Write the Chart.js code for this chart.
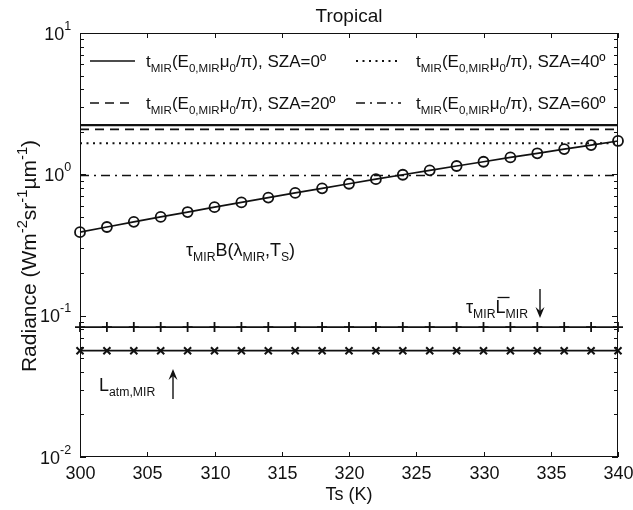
<!DOCTYPE html>
<html>
<head>
<meta charset="utf-8">
<script src="https://cdn.jsdelivr.net/npm/chart.js@4.4.1/dist/chart.umd.min.js"></script>
<style>
  html, body { margin: 0; padding: 0; background: #fff; }
</style>
</head>
<body>
<canvas id="chart" width="633" height="510"></canvas>
<script>
const temps = [300, 302, 304, 306, 308, 310, 312, 314, 316, 318, 320, 322, 324, 326, 328, 330, 332, 334, 336, 338, 340];
const tauPlanck = [0.39, 0.424, 0.461, 0.50, 0.541, 0.586, 0.633, 0.685, 0.739, 0.796, 0.858, 0.924, 0.993, 1.067, 1.145, 1.228, 1.317, 1.409, 1.508, 1.611, 1.722];
const solarSza = ["0", "20", "40", "60"];
const solarRadiance = [2.22, 2.08, 1.66, 0.98];
const downwelling = 0.083;
const atmPath = 0.0565;
const xTicks = [300, 305, 310, 315, 320, 325, 330, 335, 340];
const yTicks = [0.01, 0.1, 1, 10];
const yTickExp = ["-2", "-1", "0", "1"];

const ink = "#111";
const fontFamily = '"Liberation Sans", Arial, Helvetica, sans-serif';
const solarDash = [[], [9, 6], [2, 4.5], [9, 5, 2, 5]];

const datasets = solarRadiance.map((v, i) => ({
  data: temps.map(t => ({ x: t, y: v })),
  borderColor: ink,
  borderWidth: i === 2 ? 2 : 1.6,
  borderDash: solarDash[i],
  pointRadius: 0
}));

datasets.push({
  data: temps.map((t, i) => ({ x: t, y: tauPlanck[i] })),
  borderColor: ink,
  borderWidth: 1.7,
  pointStyle: "circle",
  pointRadius: 5,
  pointBorderWidth: 1.8,
  pointBorderColor: ink,
  pointBackgroundColor: "rgba(0,0,0,0)",
  clip: 10
});

datasets.push({
  data: temps.map(t => ({ x: t, y: downwelling })),
  borderColor: ink,
  borderWidth: 1.7,
  pointStyle: "cross",
  pointRadius: 5,
  pointBorderWidth: 1.8,
  pointBorderColor: ink,
  clip: 10
});

datasets.push({
  data: temps.map(t => ({ x: t, y: atmPath })),
  borderColor: ink,
  borderWidth: 1.7,
  pointStyle: "crossRot",
  pointRadius: 5,
  pointBorderWidth: 2,
  pointBorderColor: ink,
  clip: 10
});

// text with sub (1) / superscript (2) parts
function richText(ctx, x, y, parts, base, ratio = 0.68) {
  let cx = x;
  for (const [t, m] of parts) {
    const size = m ? base * ratio : base;
    ctx.font = size + "px " + fontFamily;
    const dy = m === 1 ? base * 0.28 : m === 2 ? -base * 0.42 : 0;
    ctx.fillText(t, cx, y + dy);
    cx += ctx.measureText(t).width;
  }
  return cx;
}

function richWidth(ctx, parts, base, ratio = 0.68) {
  let w = 0;
  for (const [t, m] of parts) {
    ctx.font = (m ? base * ratio : base) + "px " + fontFamily;
    w += ctx.measureText(t).width;
  }
  return w;
}

function arrow(ctx, x, y0, y1) {
  const dir = y1 > y0 ? 1 : -1;
  ctx.lineWidth = 1.4;
  ctx.beginPath();
  ctx.moveTo(x, y0);
  ctx.lineTo(x, y1 - dir * 4);
  ctx.stroke();
  ctx.beginPath();
  ctx.moveTo(x - 4.5, y1 - dir * 11);
  ctx.lineTo(x, y1);
  ctx.lineTo(x + 4.5, y1 - dir * 11);
  ctx.lineTo(x, y1 - dir * 7);
  ctx.closePath();
  ctx.fill();
}

const decorations = {
  id: "decorations",
  afterDraw(chart) {
    const ctx = chart.ctx;
    const area = chart.chartArea;
    const xs = chart.scales.x;
    const ys = chart.scales.y;
    ctx.save();
    ctx.fillStyle = ink;
    ctx.strokeStyle = ink;
    ctx.textBaseline = "alphabetic";

    // legend box
    const legBottom = 124;
    ctx.lineWidth = 1;
    ctx.setLineDash([]);
    ctx.strokeRect(area.left + 0.5, area.top + 0.5, area.right - area.left - 1, legBottom - area.top);

    const rows = [61, 103];
    const cols = [[90, 135, 146], [356, 401, 416]];
    const order = [[0, 0], [1, 0], [0, 1], [1, 1]]; // [row, col] for each SZA
    solarSza.forEach((sza, i) => {
      const [r, c] = order[i];
      const y = rows[r];
      ctx.setLineDash(solarDash[i]);
      ctx.lineWidth = i === 2 ? 2 : 1.4;
      ctx.beginPath();
      ctx.moveTo(cols[c][0], y);
      ctx.lineTo(cols[c][1], y);
      ctx.stroke();
      ctx.setLineDash([]);
      richText(ctx, cols[c][2], y + 6, [["t", 0], ["MIR", 1], ["(E", 0], ["0,MIR", 1], ["\u03bc", 0], ["0", 1], ["/\u03c0), SZA=" + sza + "\u00ba", 0]], 17);
    });

    // frame
    ctx.lineWidth = 1;
    ctx.strokeRect(area.left + 0.5, area.top + 0.5, area.right - area.left - 1, area.bottom - area.top - 1);

    // x ticks
    ctx.font = "18px " + fontFamily;
    ctx.textAlign = "center";
    xTicks.forEach(v => {
      const px = Math.round(xs.getPixelForValue(v)) + 0.5;
      ctx.beginPath();
      ctx.moveTo(px, area.bottom);
      ctx.lineTo(px, area.bottom - 5);
      ctx.moveTo(px, area.top);
      ctx.lineTo(px, area.top + 5);
      ctx.stroke();
      ctx.fillText(String(v), px, 479);
    });
    ctx.fillText("Ts (K)", (area.left + area.right) / 2, 500);
    ctx.font = "19px " + fontFamily;
    ctx.fillText("Tropical", (area.left + area.right) / 2, 22);

    // y ticks
    for (let d = 0; d < yTicks.length; d++) {
      const py = Math.round(ys.getPixelForValue(yTicks[d])) + 0.5;
      ctx.beginPath();
      ctx.moveTo(area.left, py);
      ctx.lineTo(area.left + 6, py);
      ctx.moveTo(area.right, py);
      ctx.lineTo(area.right - 6, py);
      ctx.stroke();
      if (d < yTicks.length - 1) {
        for (let k = 2; k <= 9; k++) {
          const my = Math.round(ys.getPixelForValue(yTicks[d] * k)) + 0.5;
          ctx.beginPath();
          ctx.moveTo(area.left, my);
          ctx.lineTo(area.left + 4, my);
          ctx.moveTo(area.right, my);
          ctx.lineTo(area.right - 4, my);
          ctx.stroke();
        }
      }
      ctx.textAlign = "left";
      const w = richWidth(ctx, [["10", 0], [yTickExp[d], 2]], 18);
      const ty = ys.getPixelForValue(yTicks[d]);
      ctx.font = "18px " + fontFamily;
      const tenW = ctx.measureText("10").width;
      ctx.fillText("10", 71 - w, ty + 6.5);
      ctx.font = "12.5px " + fontFamily;
      ctx.fillText(yTickExp[d], 71 - w + tenW, ty - 3.5);
    }

    // y title
    ctx.save();
    ctx.translate(36, 256);
    ctx.rotate(-Math.PI / 2);
    const yParts = [["Radiance (Wm", 0], ["-2", 2], ["sr", 0], ["-1", 2], ["\u00b5m", 0], ["-1", 2], [")", 0]];
    const yw = richWidth(ctx, yParts, 21, 0.7);
    ctx.textAlign = "left";
    richText(ctx, -yw / 2, 0, yParts, 21, 0.7);
    ctx.restore();

    // annotations
    ctx.textAlign = "left";
    richText(ctx, 186, 256, [["\u03c4", 0], ["MIR", 1], ["B(\u03bb", 0], ["MIR", 1], [",T", 0], ["S", 1], [")", 0]], 18);

    const lx = richText(ctx, 466, 313, [["\u03c4", 0], ["MIR", 1]], 18);
    const lEnd = richText(ctx, lx, 313, [["L", 0]], 18);
    richText(ctx, lEnd, 313, [["MIR", 1]], 18);
    ctx.lineWidth = 1.3;
    ctx.beginPath();
    ctx.moveTo(lx + 2, 297.5);
    ctx.lineTo(lEnd + 4, 297.5);
    ctx.stroke();
    arrow(ctx, 540, 289, 318);

    richText(ctx, 99, 391, [["L", 0], ["atm,MIR", 1]], 18);
    arrow(ctx, 173, 399, 369);

    ctx.restore();
  }
};

new Chart(document.getElementById("chart"), {
  type: "line",
  data: { datasets },
  options: {
    responsive: false,
    animation: false,
    devicePixelRatio: 1,
    layout: { padding: { left: 80, right: 15, top: 33, bottom: 53 } },
    plugins: { legend: { display: false }, tooltip: { enabled: false } },
    scales: {
      x: { type: "linear", min: 300, max: 340, display: false },
      y: { type: "logarithmic", min: 0.01, max: 10, display: false }
    }
  },
  plugins: [decorations]
});
</script>
</body>
</html>
